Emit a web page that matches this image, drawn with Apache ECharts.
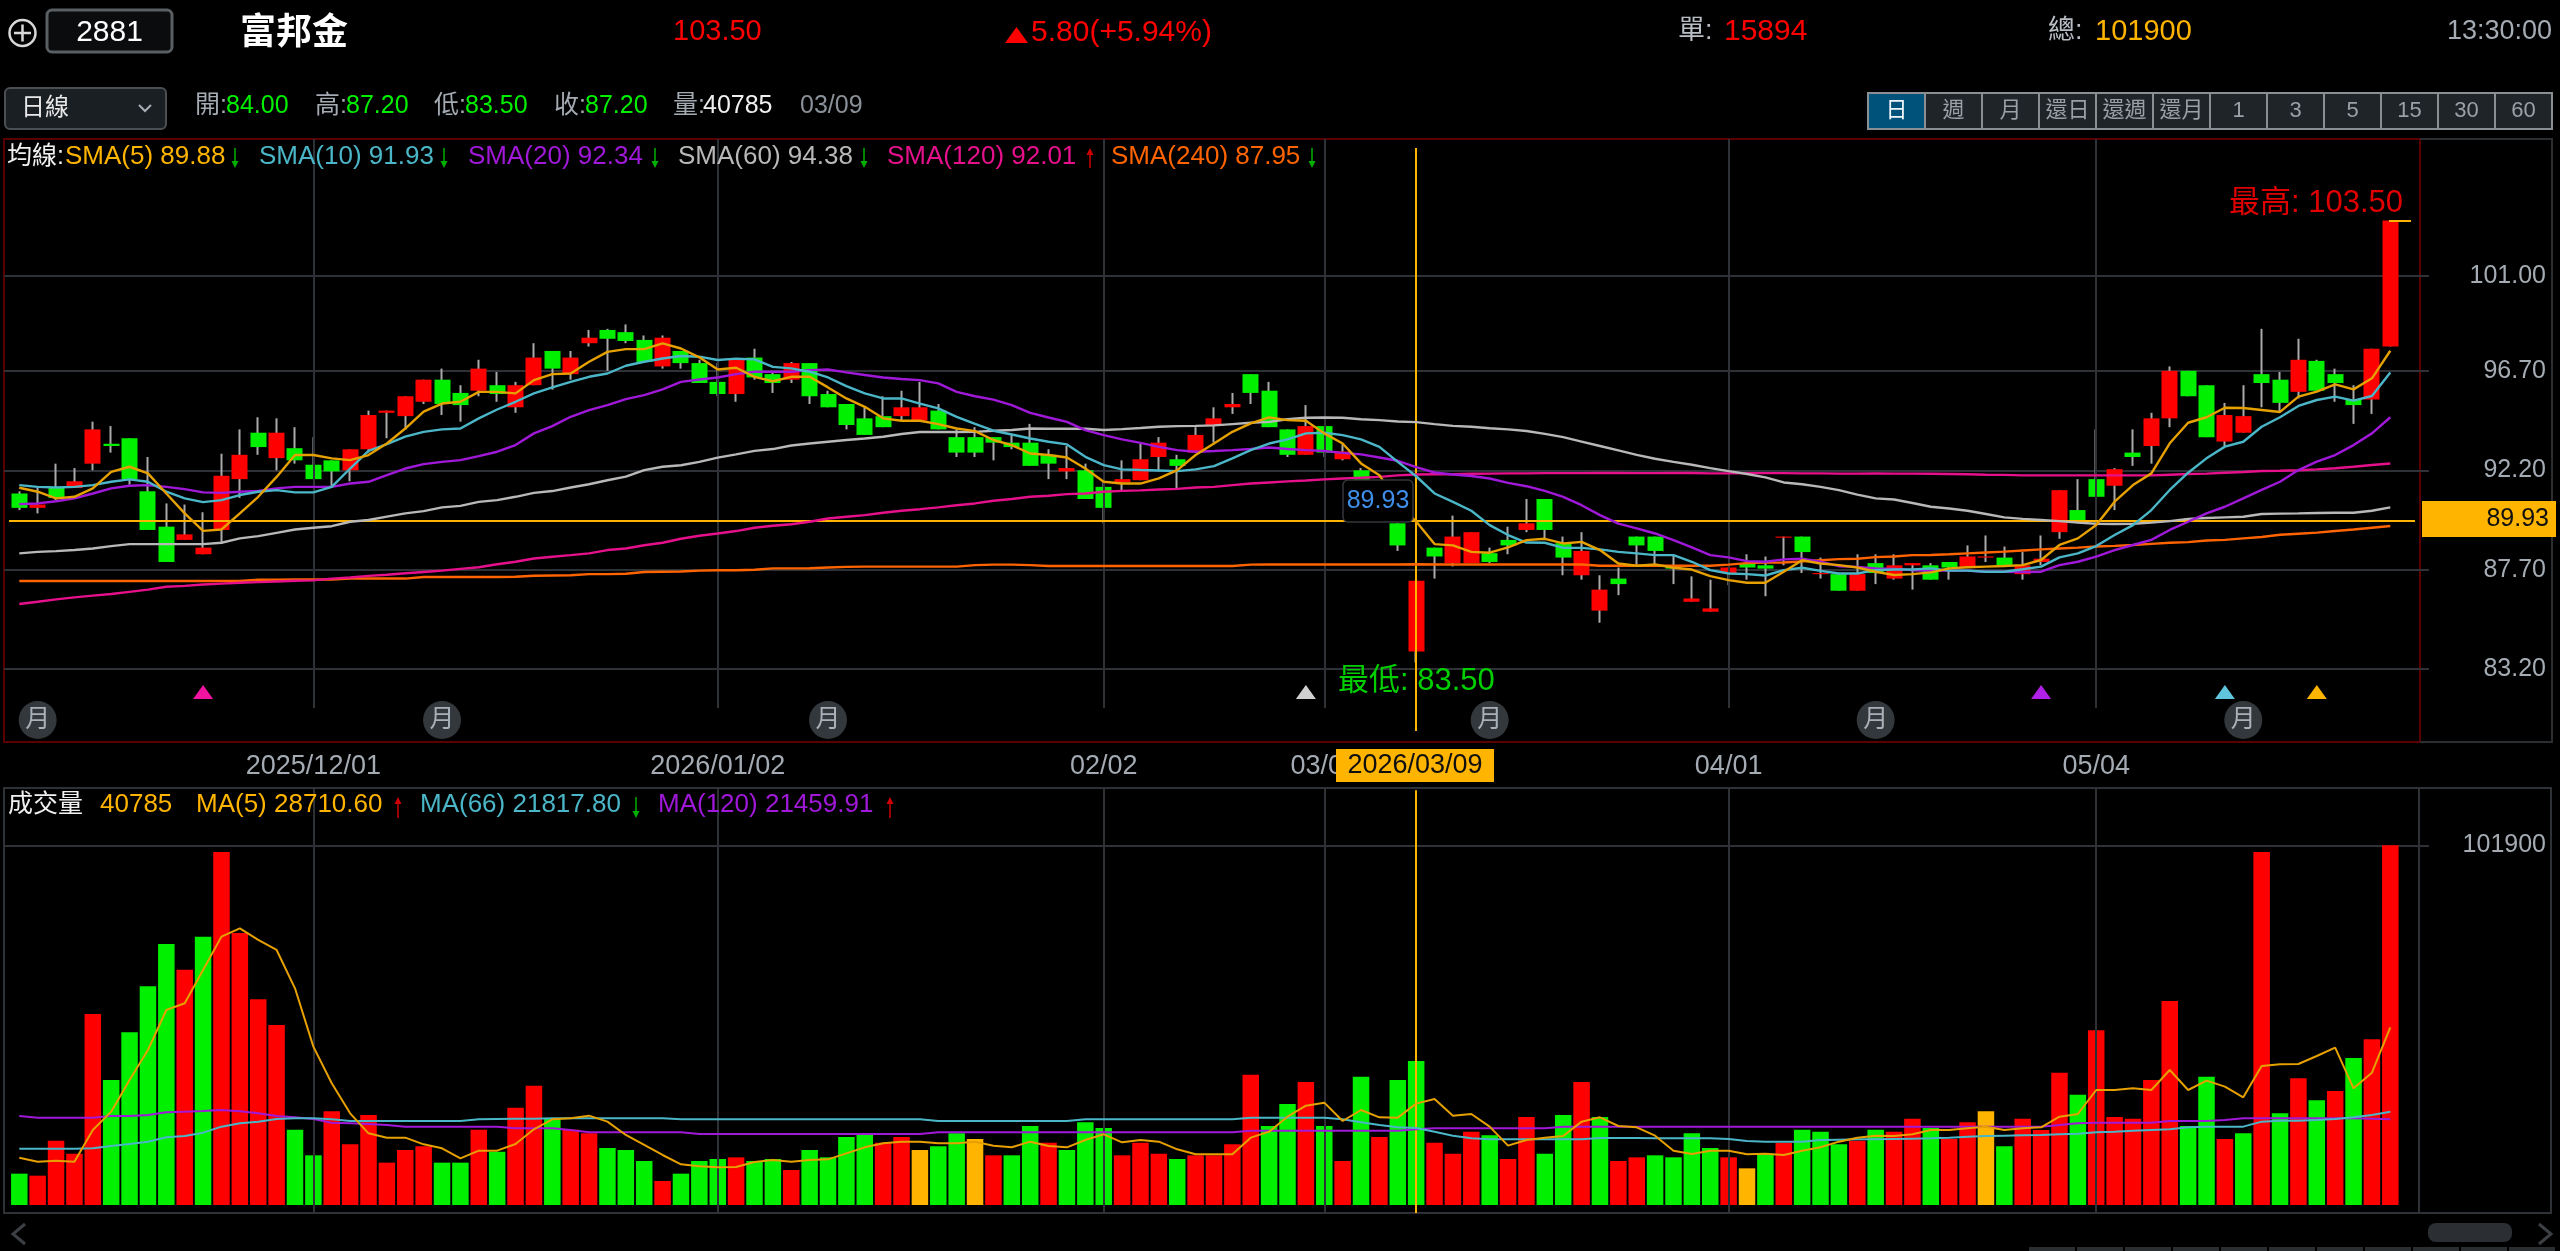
<!DOCTYPE html>
<html>
<head>
<meta charset="utf-8">
<title>富邦金 2881 日線</title>
<script src="https://cdn.jsdelivr.net/npm/echarts@6/dist/echarts.min.js"></script>
<style>
html,body{margin:0;padding:0;background:#000;}
#chart{width:2560px;height:1251px;}
</style>
</head>
<body>
<div id="chart"></div>
<script>
// Trading days shown on the daily chart
const categories = [
'2025/11/07','2025/11/10','2025/11/11','2025/11/12','2025/11/13','2025/11/14','2025/11/17','2025/11/18','2025/11/19','2025/11/20',
'2025/11/21','2025/11/24','2025/11/25','2025/11/26','2025/11/27','2025/11/28','2025/12/01','2025/12/02','2025/12/03','2025/12/04',
'2025/12/05','2025/12/08','2025/12/09','2025/12/10','2025/12/11','2025/12/12','2025/12/15','2025/12/16','2025/12/17','2025/12/18',
'2025/12/19','2025/12/22','2025/12/23','2025/12/24','2025/12/26','2025/12/29','2025/12/30','2025/12/31','2026/01/02','2026/01/05',
'2026/01/06','2026/01/07','2026/01/08','2026/01/09','2026/01/12','2026/01/13','2026/01/14','2026/01/15','2026/01/16','2026/01/19',
'2026/01/20','2026/01/21','2026/01/22','2026/01/23','2026/01/26','2026/01/27','2026/01/28','2026/01/29','2026/01/30','2026/02/02',
'2026/02/03','2026/02/04','2026/02/05','2026/02/06','2026/02/09','2026/02/10','2026/02/11','2026/02/23','2026/02/24','2026/02/25',
'2026/02/26','2026/03/02','2026/03/03','2026/03/04','2026/03/05','2026/03/06','2026/03/09','2026/03/10','2026/03/11','2026/03/12',
'2026/03/13','2026/03/16','2026/03/17','2026/03/18','2026/03/19','2026/03/20','2026/03/23','2026/03/24','2026/03/25','2026/03/26',
'2026/03/27','2026/03/30','2026/03/31','2026/04/01','2026/04/02','2026/04/07','2026/04/08','2026/04/09','2026/04/10','2026/04/13',
'2026/04/14','2026/04/15','2026/04/16','2026/04/17','2026/04/20','2026/04/21','2026/04/22','2026/04/23','2026/04/24','2026/04/27',
'2026/04/28','2026/04/29','2026/04/30','2026/05/04','2026/05/05','2026/05/06','2026/05/07','2026/05/08','2026/05/11','2026/05/12',
'2026/05/13','2026/05/14','2026/05/15','2026/05/18','2026/05/19','2026/05/20','2026/05/21','2026/05/22','2026/05/25','2026/05/26'
];

const opens = [
91.15,90.50,91.40,91.40,92.50,93.40,93.65,91.25,89.65,89.05,
88.40,89.50,91.80,93.90,92.75,93.20,92.45,92.65,92.20,93.15,
94.80,94.65,95.30,96.30,95.70,95.80,96.05,95.05,96.05,97.60,
96.55,97.95,98.55,98.45,98.10,96.90,97.60,97.05,96.20,95.65,
97.30,96.55,96.30,97.05,95.65,95.20,94.55,94.65,94.65,94.45,
94.90,93.70,93.70,93.70,93.45,93.45,92.90,92.15,92.20,91.45,
91.65,91.75,92.80,92.70,93.00,94.25,95.05,96.55,95.80,94.05,
92.90,94.20,92.70,92.20,90.40,89.80,84.00,88.70,88.00,88.00,
88.45,89.05,89.50,90.90,88.90,87.45,85.85,87.30,89.20,89.20,
87.85,86.25,85.80,87.55,88.00,87.90,89.15,89.20,87.50,87.50,
86.75,88.00,87.30,87.90,87.90,88.05,87.80,88.25,88.25,87.50,
88.05,89.40,90.40,91.80,91.50,93.00,93.30,94.55,96.70,96.05,
93.50,93.90,96.55,96.30,95.75,97.15,96.55,95.40,95.40,97.80
];
const closes = [
90.50,90.65,90.95,91.70,94.05,93.30,91.80,89.50,88.05,89.30,
88.70,91.95,92.90,93.25,93.90,92.65,91.80,92.15,93.15,94.70,
94.90,95.55,96.30,95.20,95.15,96.80,95.65,96.05,97.30,96.80,
97.30,98.20,98.15,98.05,97.10,98.20,97.05,96.15,95.65,97.20,
96.40,96.15,97.05,95.55,95.05,94.25,93.80,94.15,95.05,95.05,
94.05,93.00,93.00,93.45,93.25,92.40,92.50,92.30,90.90,90.50,
91.80,92.70,93.45,92.40,93.80,94.55,95.20,95.70,94.15,92.90,
94.20,93.00,93.05,91.00,91.10,88.80,87.20,88.30,89.20,89.40,
88.05,88.80,89.80,89.50,88.25,88.55,86.80,87.05,88.80,88.55,
87.75,86.40,85.95,87.80,87.80,87.75,89.20,88.50,87.55,86.75,
87.50,87.55,87.90,88.00,87.25,87.80,88.30,88.30,87.90,87.90,
88.20,91.30,89.90,91.00,92.25,92.80,94.55,96.70,95.55,93.70,
94.70,94.65,96.15,95.25,97.20,95.80,96.15,95.15,97.70,103.50
];
const lows = [
90.40,90.25,90.85,91.40,92.20,93.00,91.55,89.50,88.05,89.05,
88.40,88.90,90.95,92.90,92.20,92.50,91.80,91.45,91.70,93.00,
93.65,94.05,95.20,94.70,94.40,95.55,95.30,94.80,96.05,95.85,
96.30,97.80,96.70,97.95,97.10,96.80,96.80,96.15,95.55,95.30,
96.30,95.70,96.15,95.20,95.05,94.05,93.80,94.15,94.45,94.45,
94.05,92.80,92.80,92.65,93.15,92.40,91.80,91.80,90.90,89.80,
91.30,91.75,92.15,91.40,93.00,93.45,94.75,95.20,94.15,92.80,
92.90,92.80,92.65,91.00,90.20,88.55,83.50,87.30,87.85,88.00,
88.00,88.40,89.40,89.05,87.45,87.25,85.30,86.55,87.90,87.90,
87.05,86.25,85.80,87.00,87.25,86.50,87.90,87.55,87.30,86.75,
86.75,87.05,87.25,86.80,87.25,87.25,87.80,88.05,87.90,87.25,
87.90,89.10,89.90,91.00,90.40,92.40,92.50,94.15,95.55,93.70,
93.30,93.90,95.05,94.80,95.45,95.80,95.30,94.30,94.75,97.80
];
const highs = [
91.25,91.40,92.50,92.30,94.40,94.20,93.65,92.80,90.70,90.65,
90.30,92.95,94.05,94.60,94.55,94.15,93.70,92.65,93.15,94.90,
94.90,95.55,96.30,96.80,96.05,97.20,96.65,96.20,97.95,97.60,
97.60,98.55,98.60,98.80,98.30,98.30,97.60,97.20,97.05,97.20,
97.70,96.65,97.10,97.05,95.80,95.20,95.05,95.55,95.80,96.20,
95.20,94.05,94.15,93.70,93.85,94.30,93.15,93.30,92.50,91.70,
92.65,93.40,93.70,92.90,94.15,95.05,95.70,96.55,96.20,94.05,
95.15,94.20,93.40,92.30,91.50,89.80,87.20,88.70,90.15,89.40,
88.70,89.65,90.90,90.90,89.20,89.40,87.45,87.80,89.20,89.20,
88.35,87.40,87.25,87.80,88.40,88.30,89.20,89.20,88.25,87.50,
88.40,88.40,88.40,88.00,88.00,88.05,88.80,89.25,88.75,88.50,
89.25,91.30,91.80,94.05,92.30,94.05,94.80,96.90,96.70,96.05,
95.25,96.05,98.60,96.65,98.15,97.20,96.80,96.05,97.70,103.50
];

const sma5 = [
91.41,91.23,90.93,91.00,91.38,92.13,92.36,92.06,91.15,90.25,
89.46,89.52,90.25,91.00,91.90,92.89,92.89,92.74,92.66,92.89,
93.41,94.09,94.85,95.22,95.30,95.75,95.75,95.68,96.28,96.55,
96.58,97.11,97.56,97.68,97.68,97.94,97.71,97.31,96.76,96.84,
96.43,96.23,96.43,96.43,95.95,95.45,95.07,94.55,94.44,94.44,
94.29,94.09,93.97,93.57,93.34,92.96,92.89,92.78,92.28,91.68,
91.60,91.60,91.83,92.21,92.89,93.41,93.94,94.32,94.59,94.47,
94.44,93.87,93.41,92.51,91.98,90.70,89.88,88.86,88.80,88.51,
88.47,88.71,89.04,89.10,88.89,88.96,88.59,87.98,87.88,87.94,
87.79,87.71,87.41,87.23,87.11,87.11,87.61,88.13,87.98,87.91,
87.80,87.61,87.46,87.50,87.58,87.76,87.81,87.84,87.87,87.91,
88.14,88.82,89.12,89.72,90.78,91.53,92.06,93.42,94.35,94.60,
95.03,95.02,94.93,94.84,95.53,95.76,96.09,95.86,96.36,97.61
];
const sma10 = [
91.53,91.45,91.42,91.45,91.53,91.68,91.79,91.68,91.23,90.93,
90.76,90.85,91.08,91.23,91.30,91.20,91.20,91.45,92.28,93.08,
93.38,93.72,93.94,94.05,94.09,94.55,94.95,95.30,95.68,95.95,
96.20,96.43,96.58,96.93,97.11,97.26,97.37,97.34,97.19,97.25,
97.22,96.88,96.81,96.66,96.40,96.01,95.68,95.45,95.45,95.22,
95.00,94.62,94.30,93.99,93.82,93.64,93.49,93.37,92.81,92.43,
92.24,92.21,92.19,92.16,92.24,92.39,92.74,93.11,93.41,93.60,
93.87,93.90,93.79,93.60,93.26,92.58,91.93,91.15,90.77,90.37,
89.72,89.27,88.93,88.92,88.69,88.69,88.62,88.51,88.44,88.36,
88.36,88.06,87.68,87.53,87.50,87.44,87.68,87.79,87.65,87.53,
87.53,87.68,87.71,87.71,87.76,87.66,87.66,87.61,87.61,87.72,
87.84,88.26,88.44,88.77,89.27,89.72,90.40,91.31,92.09,92.74,
93.27,93.49,94.17,94.60,95.11,95.38,95.53,95.35,95.56,96.62
];
const sma20 = [
90.67,90.70,90.80,90.93,91.15,91.38,91.50,91.53,91.45,91.35,
91.20,91.18,91.23,91.27,91.38,91.45,91.45,91.45,91.60,91.68,
91.98,92.28,92.48,92.58,92.66,92.84,93.04,93.34,93.87,94.20,
94.62,94.92,95.15,95.42,95.60,95.86,96.20,96.31,96.40,96.55,
96.66,96.66,96.66,96.73,96.76,96.63,96.51,96.40,96.33,96.28,
96.13,95.75,95.55,95.40,95.15,94.80,94.59,94.39,94.02,93.79,
93.60,93.44,93.26,93.11,93.04,93.07,93.11,93.16,93.23,93.16,
93.11,93.07,92.99,92.92,92.78,92.63,92.34,92.10,92.01,91.94,
91.83,91.63,91.48,91.27,91.00,90.62,90.17,89.79,89.57,89.34,
89.04,88.71,88.36,88.26,88.09,88.06,88.17,88.20,88.06,87.86,
87.83,87.76,87.74,87.68,87.65,87.66,87.66,87.61,87.61,87.60,
87.61,87.91,88.06,88.29,88.59,88.82,89.05,89.50,89.87,90.25,
90.55,90.93,91.31,91.68,92.21,92.59,92.89,93.34,93.87,94.60
];
const sma60 = [
88.44,88.51,88.54,88.59,88.66,88.77,88.86,88.86,88.86,88.86,
88.86,88.92,89.12,89.22,89.37,89.52,89.60,89.67,89.87,89.95,
90.10,90.25,90.35,90.52,90.59,90.77,90.85,91.00,91.18,91.26,
91.42,91.57,91.75,91.91,92.21,92.36,92.43,92.58,92.77,92.92,
93.08,93.16,93.32,93.41,93.49,93.57,93.64,93.72,93.84,93.93,
93.93,93.93,93.94,93.99,94.02,94.09,94.08,94.08,94.08,94.02,
94.06,94.11,94.17,94.20,94.21,94.23,94.29,94.35,94.39,94.51,
94.58,94.59,94.58,94.51,94.47,94.41,94.38,94.29,94.21,94.17,
94.10,94.05,93.98,93.85,93.70,93.50,93.30,93.10,92.90,92.72,
92.58,92.45,92.30,92.16,92.03,91.88,91.65,91.57,91.45,91.30,
91.10,90.93,90.88,90.72,90.55,90.47,90.37,90.22,90.07,90.00,
89.95,89.90,89.83,89.78,89.77,89.78,89.83,89.90,90.00,90.04,
90.07,90.10,90.22,90.24,90.25,90.27,90.28,90.28,90.37,90.52
];
const sma120 = [
86.15,86.25,86.36,86.45,86.53,86.60,86.70,86.80,86.93,86.97,
87.03,87.07,87.11,87.14,87.17,87.20,87.22,87.30,87.35,87.42,
87.47,87.54,87.60,87.66,87.74,87.81,87.95,88.06,88.21,88.29,
88.36,88.44,88.59,88.66,88.81,88.92,89.10,89.24,89.34,89.45,
89.60,89.69,89.76,89.87,90.02,90.10,90.17,90.28,90.37,90.44,
90.52,90.62,90.70,90.82,90.90,91.00,91.05,91.12,91.15,91.23,
91.27,91.29,91.33,91.36,91.42,91.45,91.53,91.60,91.65,91.70,
91.74,91.79,91.83,91.86,91.90,91.97,92.01,92.02,92.02,92.04,
92.05,92.06,92.06,92.07,92.07,92.07,92.08,92.08,92.07,92.07,
92.08,92.08,92.06,92.06,92.07,92.07,92.07,92.06,92.06,92.05,
92.05,92.06,92.05,92.05,92.04,92.03,92.02,92.00,91.99,91.97,
91.97,91.97,91.97,91.97,91.97,91.97,91.97,92.00,92.03,92.05,
92.09,92.12,92.17,92.18,92.20,92.24,92.29,92.36,92.44,92.51
];
const sma240 = [
87.19,87.19,87.19,87.19,87.19,87.19,87.19,87.19,87.19,87.19,
87.19,87.19,87.19,87.25,87.25,87.26,87.26,87.26,87.30,87.30,
87.30,87.30,87.37,87.37,87.37,87.37,87.37,87.38,87.43,87.44,
87.45,87.50,87.50,87.52,87.60,87.61,87.62,87.66,87.68,87.68,
87.70,87.76,87.76,87.77,87.80,87.83,87.84,87.84,87.84,87.84,
87.84,87.84,87.91,87.93,87.93,87.91,87.87,87.87,87.87,87.87,
87.87,87.87,87.87,87.87,87.87,87.87,87.87,87.93,87.94,87.94,
87.94,87.94,87.94,87.94,87.94,87.94,87.95,87.94,87.94,87.94,
87.94,87.94,87.94,87.94,87.94,87.94,87.88,87.88,87.88,87.88,
87.88,87.88,87.88,87.93,88.00,88.02,88.03,88.08,88.13,88.18,
88.20,88.27,88.30,88.36,88.37,88.40,88.44,88.48,88.52,88.57,
88.62,88.66,88.70,88.75,88.78,88.82,88.87,88.92,88.95,89.02,
89.05,89.12,89.18,89.28,89.33,89.38,89.45,89.52,89.60,89.68
];

const volumes = [
8877,8311,18227,14544,54114,35415,48920,61953,73947,66675,
76024,100012,77063,58270,50998,21343,14072,26538,17188,25499,
11994,15583,16621,11994,11994,21343,15110,27576,33810,24460,
21343,20305,16149,15583,12466,6800,8877,12466,13033,13505,
12466,13033,9916,15583,13505,19266,19832,17660,19266,15583,
16621,20305,18699,14072,14072,22382,17660,15583,23421,21816,
14072,17660,14544,13033,14072,14072,17188,36926,22382,28615,
34848,22382,12466,36359,19266,35415,40785,17660,14544,20777,
19738,13033,24932,14544,25499,34848,24932,12466,13505,14072,
13505,20305,16149,13505,10388,14544,17660,21343,20777,17188,
18227,21343,20777,24460,21816,18699,23421,26538,16621,24460,
21249,37493,31260,49487,24932,24460,35415,57797,22382,36359,
18699,20305,100012,25971,35887,29654,32298,41648,46937,101900
];
// 1 = closed higher than the day before, -1 = lower, 0 = unchanged
const volumeTrend = [
-1,1,1,1,1,-1,-1,-1,-1,1,
-1,1,1,1,1,-1,-1,1,1,1,
1,1,1,-1,-1,1,-1,1,1,-1,
1,1,-1,-1,-1,1,-1,-1,-1,1,
-1,-1,1,-1,-1,-1,-1,1,1,0,
-1,-1,0,1,-1,-1,1,-1,-1,-1,
1,1,1,-1,1,1,1,1,-1,-1,
1,-1,1,-1,1,-1,-1,1,1,1,
-1,1,1,-1,-1,1,-1,1,1,-1,
-1,-1,-1,1,0,-1,1,-1,-1,-1,
1,-1,1,1,-1,1,1,0,-1,1,
1,1,-1,1,1,1,1,1,-1,-1,
1,-1,1,-1,1,-1,1,-1,1,1
];
const volMa5 = [
13410,12277,12561,12277,21249,26443,35415,43915,55247,57136,
66580,76024,78385,75080,72247,61386,44859,34471,25971,20305,
19077,19077,17188,16055,13222,15394,15394,17283,21438,24271,
24554,25310,23610,19832,16999,14166,11522,10955,10672,10766,
12183,12749,12277,12749,12938,14638,16338,17471,17944,17944,
17471,17471,17944,16810,16338,17944,16716,16338,18416,20021,
17755,18416,17944,15771,14355,14355,14355,19077,20777,25027,
28143,28993,23799,26915,24838,24743,28710,30032,25310,25782,
22193,16810,18416,19077,19549,23610,24838,22382,22005,19644,
15394,14449,15394,15394,14355,14544,14166,15394,16338,17944,
19077,19644,19549,20021,21249,21249,21721,22193,21249,21721,
22005,25027,25782,32582,32582,33054,32582,38248,32582,35226,
33526,30504,39381,39854,39948,42215,44576,33054,37493,50337
];
const volMa66 = [
15960,15960,15960,15960,16055,16716,17283,17944,19171,19549,
20493,22193,23138,23610,24366,24554,24554,24271,23799,23799,
23799,23799,23799,23799,23799,24271,24366,24460,24460,24554,
24554,24554,24554,24554,24554,24554,24271,24271,24271,24271,
24271,24271,24271,24271,24271,24271,24271,24271,24271,24271,
23799,23799,23799,23799,23799,23799,23799,23799,24271,24271,
24271,24271,24271,24271,24271,24271,24271,24743,24743,24743,
24743,24743,24271,23421,22666,22005,21818,20777,19644,18888,
18605,18605,18605,18605,18605,18605,18982,18982,18982,18888,
18888,18888,18888,18699,18133,17944,17944,17944,18416,18510,
18605,18605,18699,18794,18888,19077,19360,19549,19644,19738,
19832,20021,20210,20588,20777,21060,21249,21438,22005,22193,
22193,22193,23610,23893,23893,24082,24366,24838,25499,26443
];
const volMa120 = [
25215,24743,24743,24743,24743,25215,25215,25499,26254,26443,
26632,26915,26538,25971,25215,24838,24366,23327,23138,22949,
22666,22193,22193,22193,22193,22193,22193,21721,21721,21721,
21249,20588,20588,20588,20588,20588,20588,20116,20116,20116,
20116,20116,20116,20116,20116,20116,20116,20116,20116,20116,
20588,20588,20588,20588,20588,20588,20588,20588,20588,20588,
20588,20588,20588,20588,20588,20588,20588,21060,21060,21060,
21060,21060,21060,21060,21060,21060,21460,21721,21721,21721,
21721,21721,21721,21721,22193,22193,22193,22193,22193,22193,
22193,22193,22193,22193,22193,22193,22193,22193,22193,22193,
22193,22193,22193,22193,22193,22193,22193,22193,22193,22193,
22193,22666,23138,23327,23327,23327,23327,23799,23799,23799,
24082,24554,24554,24554,24554,24554,24554,24554,24460,24271
];

// Axis ticks and labels
const priceTicks = [83.20, 87.70, 92.20, 96.70, 101.00];
const volumeTicks = [101900];
const dateLabels = {
  '2025/12/01': '2025/12/01', '2026/01/02': '2026/01/02', '2026/02/02': '02/02',
  '2026/03/02': '03/02', '2026/04/01': '04/01', '2026/05/04': '05/04'
};
const cursorDate = '2026/03/09';
const cursorPrice = 89.93;
const highestPrice = 103.50;
const lowestPrice = 83.50;

// Day indexes of the signal triangles and the month badges
const signalDays = [10, 70, 110, 120, 125];
const monthBadgeDays = [1, 23, 44, 80, 101, 121];

// Vertical scale limits of both panels
const priceMin = 79.86, priceMax = 107.19;
const volumeMin = -2266, volumeMax = 118130;

const RED = '#ff0000', GREEN = '#00f000', AMBER = '#ffb400', CYAN = '#4ab6c8',
      PURPLE = '#a018d8', SILVER = '#b8b8b8', MAGENTA = '#e6108c', ORANGE = '#ff6400',
      GRID = '#2e3135', MUTED = '#a4abb3', UP = '#d00000', DOWN = '#00b000';
const signalColors = ['#f014a0', '#d0d0d0', '#b020e8', '#5fc4dc', AMBER];
const FONT = '"Liberation Sans","Noto Sans CJK TC",sans-serif';

const chart = echarts.init(document.getElementById('chart'), null, {renderer: 'canvas'});

function maLine(name, data, color, xi, yi, width) {
  return {name, type: 'line', data, xAxisIndex: xi, yAxisIndex: yi, showSymbol: false, symbol: 'none',
    silent: true, z: 6, lineStyle: {color, width: width || 2.4}, connectNulls: false};
}
function rules(segments, color, width, xi, yi, z) {
  return {type: 'line', data: [], xAxisIndex: xi, yAxisIndex: yi, silent: true, z,
    markLine: {silent: true, symbol: 'none', animation: false, label: {show: false},
      lineStyle: {color, width, type: 'solid'}, data: segments}};
}
const monthDates = Object.keys(dateLabels);
const priceWickTop = 107.19, priceWickBottom = 81.44;

// Text placed at an absolute spot on the screen
function label(x, y, text, fill, size, extra) {
  return {type: 'text', z: 100, silent: true,
    style: Object.assign({x, y, text, fill, fontSize: size, fontFamily: FONT, align: 'left', verticalAlign: 'middle'}, extra || {})};
}
function box(x, y, w, h, fill, stroke, r, lw, z) {
  return {type: 'rect', z: z === undefined ? 100 : z, silent: true, shape: {x, y, width: w, height: h, r: r || 0},
    style: {fill: fill || 'transparent', stroke: stroke || null, lineWidth: lw || 1}};
}
function path(points, stroke, lw, z) {
  return {type: 'polyline', z: z === undefined ? 100 : z, silent: true, shape: {points},
    style: {stroke, lineWidth: lw, fill: 'transparent'}};
}
function solid(points, fill) {
  return {type: 'polygon', z: 100, silent: true, shape: {points}, style: {fill}};
}
// Thin trend arrow beside a legend value
function arrow(x, top, bottom, up) {
  const c = up ? UP : DOWN;
  return up
    ? [path([[x, top + 5], [x, bottom]], c, 1.5), solid([[x, top], [x - 3.5, top + 7], [x + 3.5, top + 7]], c)]
    : [path([[x, top], [x, bottom - 5]], c, 1.5), solid([[x, bottom], [x - 3.5, bottom - 7], [x + 3.5, bottom - 7]], c)];
}

const buttons = ['日','週','月','還日','還週','還月','1','3','5','15','30','60'];
const buttonEls = [];
buttons.forEach((b, i) => {
  const bx = 1868 + i * 57;
  buttonEls.push(box(bx, 93, 57, 36, i === 0 ? '#00527a' : '#1f2428', '#8a8f94', 0, 2));
  buttonEls.push(label(bx + 28.5, 111, b, i === 0 ? '#f0f4f8' : '#9aa0a6', 22, {align: 'center'}));
});
const footerEls = [];
for (let i = 0; i < 11; i++) footerEls.push(box(2029 + i * 48, 1247, 46, 4, '#2b2e31', null, 0, 0));

const graphics = [
  // Panel frames
  box(4, 139, 2416, 603, null, '#5a0000', 0, 2, 0),
  path([[2420, 139], [2552, 139], [2552, 742], [2420, 742]], '#2b2e31', 2, 0),
  box(4, 788, 2547, 425, null, GRID, 0, 2, 0),
  path([[2419, 788], [2419, 1213]], GRID, 2, 0),
  // Quote header
  {type: 'circle', z: 100, silent: true, shape: {cx: 22.5, cy: 33, r: 13}, style: {fill: 'transparent', stroke: '#d8d8d8', lineWidth: 2.5}},
  path([[14, 33], [31, 33]], '#d8d8d8', 2.5),
  path([[22.5, 24.5], [22.5, 41.5]], '#d8d8d8', 2.5),
  box(47, 10, 125, 42, '#0b0c0d', '#5a5f64', 5, 3),
  label(109.5, 33, '2881', '#ffffff', 30, {align: 'center'}),
  label(240, 34, '富邦金', '#ffffff', 36, {fontWeight: 'bold'}),
  label(673, 32, '103.50', RED, 29),
  solid([[1016.5, 27], [1005, 43], [1028, 43]], RED),
  label(1031, 33, '5.80(+5.94%)', RED, 30),
  label(1678, 32, '單:', '#b8bec4', 27),
  label(1724, 32, '15894', RED, 30),
  label(2048, 32, '總:', '#b8bec4', 27),
  label(2095, 32, '101900', AMBER, 29),
  label(2552, 32, '13:30:00', MUTED, 27, {align: 'right'}),
  // Day summary row
  box(5, 88, 161, 41, '#1a1f24', '#4a4f54', 5, 2),
  label(21, 108, '日線', '#e8e8e8', 24),
  path([[139, 105], [145, 111], [151, 105]], '#a8adb2', 2),
  label(195, 106, '開:', MUTED, 25), label(226, 106, '84.00', GREEN, 25),
  label(315, 106, '高:', MUTED, 25), label(346, 106, '87.20', GREEN, 25),
  label(434, 106, '低:', MUTED, 25), label(465, 106, '83.50', GREEN, 25),
  label(554, 106, '收:', MUTED, 25), label(585, 106, '87.20', GREEN, 25),
  label(673, 106, '量:', MUTED, 25), label(703, 106, '40785', '#f0f0f0', 25),
  label(800, 106, '03/09', '#8a9098', 25),
  ...buttonEls,
  // Moving average legend
  label(7, 157, '均線:', '#f0f0f0', 25),
  label(65, 157, 'SMA(5) 89.88', AMBER, 26), ...arrow(235, 148, 168, false),
  label(259, 157, 'SMA(10) 91.93', CYAN, 26), ...arrow(444, 148, 168, false),
  label(468, 157, 'SMA(20) 92.34', PURPLE, 26), ...arrow(655, 148, 168, false),
  label(678, 157, 'SMA(60) 94.38', SILVER, 26), ...arrow(864, 148, 168, false),
  label(887, 157, 'SMA(120) 92.01', MAGENTA, 26), ...arrow(1090, 148, 168, true),
  label(1111, 157, 'SMA(240) 87.95', ORANGE, 26), ...arrow(1312, 148, 168, false),
  // Extremes
  label(2229, 203, '最高: 103.50', '#e00000', 31),
  label(1338, 681, '最低: 83.50', '#00d000', 31),
  // Cursor read-outs
  box(1343, 480, 70, 42, '#000000', '#33363a', 5, 1.5),
  label(1378, 501, '89.93', '#3f8fe8', 25, {align: 'center'}),
  box(2422, 501, 134, 36, AMBER, null),
  label(2549, 519, '89.93', '#101010', 25, {align: 'right'}),
  box(1336, 749, 158, 33, AMBER, null),
  label(1415, 766, '2026/03/09', '#101010', 27, {align: 'center'}),
  // Volume legend
  label(8, 805, '成交量', '#f0f0f0', 25),
  label(100, 805, '40785', AMBER, 26),
  label(196, 805, 'MA(5) 28710.60', AMBER, 26), ...arrow(398, 797, 818, true),
  label(420, 805, 'MA(66) 21817.80', CYAN, 26), ...arrow(636, 797, 818, false),
  label(658, 805, 'MA(120) 21459.91', PURPLE, 26), ...arrow(890, 797, 818, true),
  // Scroll bar
  path([[25, 1224], [13, 1234], [25, 1244]], '#3c4045', 3),
  box(2428, 1223, 84, 19, '#2b2f33', null, 8),
  path([[2539, 1224], [2551, 1234], [2539, 1244]], '#3c4045', 3),
  ...footerEls
];

chart.setOption({
  animation: false,
  backgroundColor: '#000000',
  textStyle: {fontFamily: FONT},
  grid: [
    {left: 10.1, width: 2389.4, top: 139, height: 604},
    {left: 4, width: 2425, top: 139, height: 604},
    {left: 10.1, width: 2389.4, top: 788, height: 425},
    {left: 4, width: 2425, top: 788, height: 425}
  ],
  xAxis: [
    {type: 'category', gridIndex: 0, data: categories, boundaryGap: true,
      axisLine: {show: false}, axisTick: {show: false}, splitLine: {show: false},
      axisLabel: {show: true, margin: 10, color: MUTED, fontSize: 27, fontFamily: FONT, hideOverlap: false,
        interval: (i, v) => v in dateLabels, formatter: v => dateLabels[v] || ''}},
    {type: 'value', gridIndex: 1, min: 4, max: 2429, show: false},
    {type: 'category', gridIndex: 2, data: categories, show: false},
    {type: 'value', gridIndex: 3, min: 4, max: 2429, show: false}
  ],
  yAxis: [
    {type: 'value', gridIndex: 0, min: priceMin, max: priceMax, show: false},
    {type: 'value', gridIndex: 1, min: priceMin, max: priceMax, position: 'right',
      axisLine: {show: false},
      axisTick: {show: false, customValues: priceTicks},
      splitLine: {show: true, lineStyle: {color: GRID, width: 2}},
      axisLabel: {customValues: priceTicks, color: MUTED, fontSize: 25, fontFamily: FONT, align: 'right', margin: 117,
        formatter: v => v.toFixed(2)}},
    {type: 'value', gridIndex: 2, min: volumeMin, max: volumeMax, show: false},
    {type: 'value', gridIndex: 3, min: volumeMin, max: volumeMax, position: 'right',
      axisLine: {show: false},
      axisTick: {show: false, customValues: volumeTicks},
      splitLine: {show: true, lineStyle: {color: GRID, width: 2}},
      axisLabel: {customValues: volumeTicks, color: MUTED, fontSize: 25, fontFamily: FONT, align: 'right', margin: 117,
        formatter: v => String(v)}}
  ],
  series: [
    // Month separators
    rules(monthDates.map(d => [{xAxis: d, yAxis: priceWickTop}, {xAxis: d, yAxis: priceWickBottom}]), GRID, 2, 0, 0, 1),
    rules(monthDates.map(d => [{xAxis: d, yAxis: volumeMax}, {xAxis: d, yAxis: volumeMin}]), GRID, 2, 2, 2, 1),
    // Wicks sit behind the candle bodies
    {name: 'wick', type: 'candlestick', xAxisIndex: 0, yAxisIndex: 0, z: 3, silent: true, barWidth: 1,
      itemStyle: {color: '#aaaaaa', color0: '#aaaaaa', borderColor: '#aaaaaa', borderColor0: '#aaaaaa', borderColorDoji: '#aaaaaa', borderWidth: 2},
      data: categories.map((_, i) => [opens[i], closes[i], lows[i], highs[i]])},
    {name: 'body', type: 'candlestick', xAxisIndex: 0, yAxisIndex: 0, z: 4, silent: true, barWidth: 16.5,
      itemStyle: {color: RED, color0: GREEN, borderColor: RED, borderColor0: GREEN, borderWidth: 0},
      data: categories.map((_, i) => [opens[i], closes[i], Math.min(opens[i], closes[i]), Math.max(opens[i], closes[i])])},
    maLine('SMA(240)', sma240, ORANGE, 0, 0),
    maLine('SMA(120)', sma120, MAGENTA, 0, 0),
    maLine('SMA(60)', sma60, SILVER, 0, 0),
    maLine('SMA(20)', sma20, PURPLE, 0, 0),
    maLine('SMA(10)', sma10, CYAN, 0, 0),
    maLine('SMA(5)', sma5, '#e6a000', 0, 0),
    // Signal triangles along the bottom of the price panel
    {name: 'signals', type: 'scatter', xAxisIndex: 0, yAxisIndex: 0, z: 7, silent: true,
      symbol: 'triangle', symbolSize: [20, 14],
      data: signalDays.map((d, i) => ({value: [categories[d], 82.17], itemStyle: {color: signalColors[i], opacity: 1}}))},
    // Month badges
    {name: 'months', type: 'scatter', xAxisIndex: 0, yAxisIndex: 0, z: 7, silent: true,
      symbol: 'circle', symbolSize: 38, itemStyle: {color: '#33383d', opacity: 1},
      label: {show: true, position: 'inside', formatter: '月', color: '#a8b0b8', fontSize: 25, fontFamily: FONT},
      data: monthBadgeDays.map(d => [categories[d], 80.9])},
    // Cursor cross hair
    rules([[{xAxis: cursorDate, yAxis: 106.78}, {xAxis: cursorDate, yAxis: 80.4}]], AMBER, 2, 0, 0, 9),
    rules([[{xAxis: 9, yAxis: cursorPrice}, {xAxis: 2415, yAxis: cursorPrice}],
           [{xAxis: 2389, yAxis: highestPrice}, {xAxis: 2411, yAxis: highestPrice}]], AMBER, 2, 1, 1, 9),
    // Volume panel
    {name: 'volume', type: 'bar', xAxisIndex: 2, yAxisIndex: 2, z: 3, silent: true, barWidth: 16.5,
      data: volumes.map((v, i) => ({value: v,
        itemStyle: {color: volumeTrend[i] > 0 ? RED : volumeTrend[i] < 0 ? GREEN : AMBER}}))},
    maLine('MA(120)', volMa120, PURPLE, 2, 2, 2),
    maLine('MA(66)', volMa66, CYAN, 2, 2, 2),
    maLine('MA(5)', volMa5, '#e6a000', 2, 2, 2),
    rules([[{xAxis: cursorDate, yAxis: 117500}, {xAxis: cursorDate, yAxis: volumeMin}]], AMBER, 2, 2, 2, 9)
  ],
  graphic: {elements: graphics}
});
</script>
</body>
</html>
